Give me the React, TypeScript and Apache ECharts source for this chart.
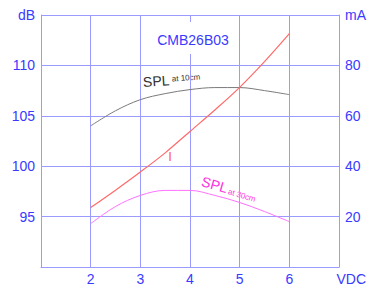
import React, { useEffect, useRef } from "react";
import * as echarts from "echarts";

const voltage = [2, 2.5, 3, 3.5, 4, 4.5, 5, 5.5, 6];
const spl10cm = [104.0, 105.5, 106.6, 107.2, 107.6, 107.8, 107.8, 107.5, 107.1];
const currentMA = [23.6, 30.5, 37.7, 45.3, 53.8, 62.3, 71.3, 81.5, 92.6];
const spl30cm = [94.3, 96.0, 97.1, 97.6, 97.6, 97.1, 96.4, 95.5, 94.5];

const BLUE = "#3a3aff";
const GRID = "#9a9aff";
const FONT = "Liberation Sans";

export default function App() {
  const ref = useRef<HTMLDivElement>(null);
  useEffect(() => {
    if (!ref.current) return;
    const chart = echarts.init(ref.current, undefined, { renderer: "svg" });
    const pair = (ys: number[]) => voltage.map((v, i) => [v, ys[i]]);
    chart.setOption({
      animation: false,
      backgroundColor: "#ffffff",
      grid: { left: 41, right: 29, top: 15, bottom: 22 },
      xAxis: {
        type: "value",
        min: 1,
        max: 7,
        interval: 1,
        axisLine: { show: true, lineStyle: { color: GRID, width: 1 } },
        axisTick: { show: false },
        axisLabel: {
          showMinLabel: false,
          showMaxLabel: false,
          color: BLUE,
          fontFamily: FONT,
          fontSize: 14,
          margin: 5,
        },
        splitLine: { show: true, lineStyle: { color: GRID, width: 1 } },
      },
      yAxis: [
        {
          type: "value",
          min: 90,
          max: 115,
          interval: 5,
          axisLine: { show: true, lineStyle: { color: GRID, width: 1 } },
          axisTick: { show: false },
          axisLabel: {
            showMinLabel: false,
            showMaxLabel: false,
            color: BLUE,
            fontFamily: FONT,
            fontSize: 14,
            margin: 6,
          },
          splitLine: { show: true, lineStyle: { color: GRID, width: 1 } },
        },
        {
          type: "value",
          min: 0,
          max: 100,
          interval: 20,
          position: "right",
          axisLine: { show: true, lineStyle: { color: GRID, width: 1 } },
          axisTick: { show: false },
          axisLabel: {
            showMinLabel: false,
            showMaxLabel: false,
            color: BLUE,
            fontFamily: FONT,
            fontSize: 14,
            margin: 6,
          },
          splitLine: { show: false },
        },
      ],
      series: [
        {
          type: "line",
          name: "SPL at 10cm",
          yAxisIndex: 0,
          data: pair(spl10cm),
          smooth: 0.35,
          showSymbol: false,
          lineStyle: { color: "#7a7a7a", width: 1 },
        },
        {
          type: "line",
          name: "I",
          yAxisIndex: 1,
          data: pair(currentMA),
          smooth: 0.35,
          showSymbol: false,
          lineStyle: { color: "#ff6a6a", width: 1.2 },
        },
        {
          type: "line",
          name: "SPL at 30cm",
          yAxisIndex: 0,
          data: pair(spl30cm),
          smooth: 0.35,
          showSymbol: false,
          lineStyle: { color: "#ff70ff", width: 1 },
        },
      ],
      graphic: [
        { type: "rect", z: 100, shape: { x: 141, y: 22, width: 98, height: 32 }, style: { fill: "#ffffff" } },
        { type: "text", z: 101, x: 193, y: 40, style: { text: "CMB26B03", fill: BLUE, font: `14px ${FONT}`, align: "center", verticalAlign: "middle" } },
        { type: "text", z: 101, x: 35, y: 15, style: { text: "dB", fill: BLUE, font: `14px ${FONT}`, align: "right", verticalAlign: "middle" } },
        { type: "text", z: 101, x: 345, y: 15, style: { text: "mA", fill: BLUE, font: `14px ${FONT}`, align: "left", verticalAlign: "middle" } },
        { type: "text", z: 101, x: 366, y: 279, style: { text: "VDC", fill: BLUE, font: `14px ${FONT}`, align: "right", verticalAlign: "middle" } },
        {
          type: "group", z: 101, x: 143, y: 82, rotation: 0.07,
          children: [
            { type: "text", x: 0, y: 0, style: { text: "SPL", fill: "#333333", font: `14px ${FONT}`, align: "left", verticalAlign: "middle" } },
            { type: "text", x: 29, y: -1, style: { text: "at 10cm", fill: "#333333", font: `8px ${FONT}`, align: "left", verticalAlign: "middle" } },
          ],
        },
        {
          type: "group", z: 101, x: 202, y: 181, rotation: -0.28,
          children: [
            { type: "text", x: 0, y: 0, style: { text: "SPL", fill: "#ff33dd", font: `14px ${FONT}`, align: "left", verticalAlign: "middle" } },
            { type: "text", x: 28, y: 3, style: { text: "at 30cm", fill: "#ff33dd", font: `8px ${FONT}`, align: "left", verticalAlign: "middle" } },
          ],
        },
        { type: "text", z: 101, x: 170, y: 156, style: { text: "I", fill: "#ff5a5a", font: `13px ${FONT}`, align: "center", verticalAlign: "middle" } },
      ],
    });
    return () => chart.dispose();
  }, []);
  return (
    <div
      ref={ref}
      style={{ position: "fixed", left: 0, top: 0, width: 368, height: 289 }}
    />
  );
}
